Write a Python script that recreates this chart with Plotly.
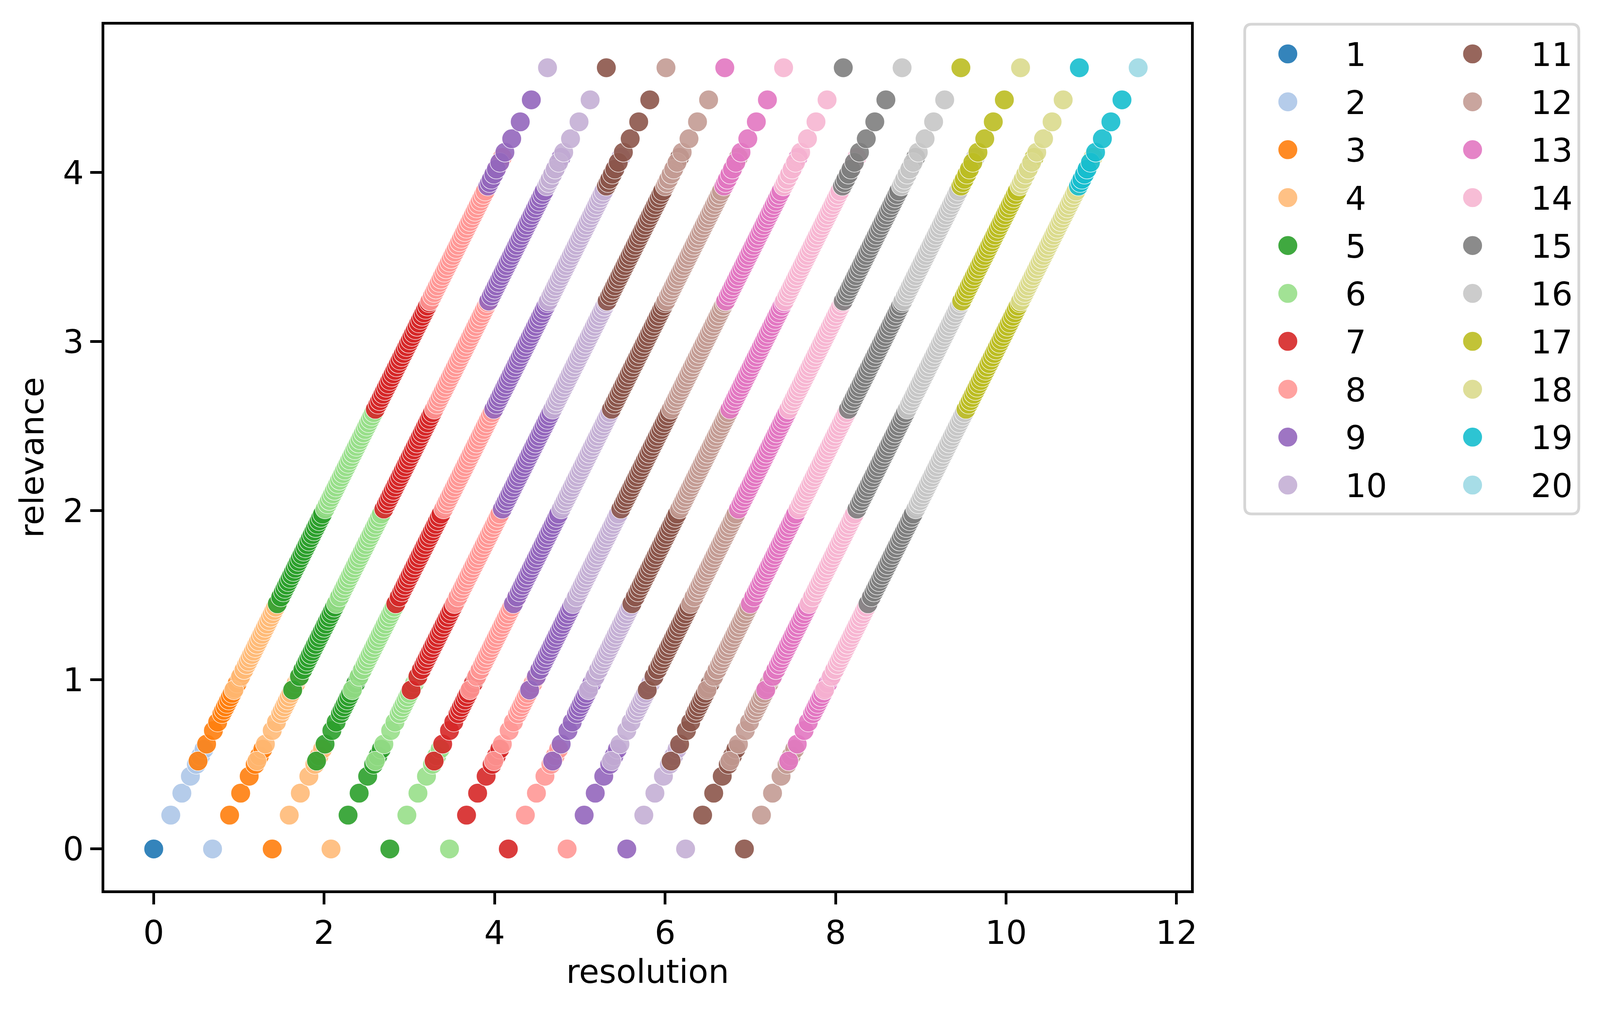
import plotly.graph_objects as go

# ---------------- data ----------------
categories = list(range(1, 21))
colors = ["#1f77b4", "#aec7e8", "#ff7f0e", "#ffbb78", "#2ca02c", "#98df8a",
          "#d62728", "#ff9896", "#9467bd", "#c5b0d5", "#8c564b", "#c49c94",
          "#e377c2", "#f7b6d2", "#7f7f7f", "#c7c7c7", "#bcbd22", "#dbdb8d",
          "#17becf", "#9edae5"]

# resolution of each diagonal band at zero relevance (bottom row of points)
band_start = [0.0, 0.69, 1.39, 2.08, 2.77, 3.47, 4.16, 4.85, 5.55, 6.24, 6.93]

# relevance values of the points of each group, read along a band
rel_g1 = [0.0]
rel_g2 = [0.20, 0.33, 0.43, 0.50, 0.55, 0.59]
rel_g3 = [0.52, 0.62, 0.70, 0.75, 0.80, 0.82, 0.84, 0.86, 0.88, 0.90, 0.92,
          0.95, 0.98, 1.01, 1.04]
rel_g4 = [0.94, 1.02, 1.06, 1.09, 1.11, 1.13, 1.15, 1.17, 1.19, 1.21, 1.23,
          1.25, 1.27, 1.29, 1.31, 1.33, 1.35, 1.37, 1.39, 1.41, 1.43, 1.47, 1.50]
rel_g5 = [1.45, 1.49, 1.52, 1.54, 1.56, 1.58, 1.60, 1.62, 1.64, 1.66, 1.68,
          1.70, 1.72, 1.74, 1.76, 1.78, 1.80, 1.82, 1.84, 1.86, 1.88, 1.90,
          1.92, 1.94, 1.96, 1.98, 2.03, 2.06]
rel_g6 = [2.01, 2.04, 2.06, 2.08, 2.10, 2.12, 2.14, 2.16, 2.18, 2.20, 2.22,
          2.24, 2.26, 2.28, 2.30, 2.32, 2.34, 2.36, 2.38, 2.40, 2.42, 2.44,
          2.46, 2.48, 2.50, 2.52, 2.54, 2.56, 2.58, 2.63]
rel_g7 = [2.60, 2.63, 2.65, 2.67, 2.69, 2.71, 2.73, 2.75, 2.77, 2.79, 2.81,
          2.83, 2.85, 2.87, 2.89, 2.91, 2.93, 2.95, 2.97, 2.99, 3.01, 3.03,
          3.05, 3.07, 3.09, 3.11, 3.13, 3.15, 3.17, 3.19, 3.21, 3.23, 3.27]
rel_g8 = [3.24, 3.27, 3.29, 3.31, 3.33, 3.35, 3.37, 3.39, 3.41, 3.43, 3.45,
          3.47, 3.49, 3.51, 3.53, 3.55, 3.57, 3.59, 3.61, 3.63, 3.65, 3.67,
          3.69, 3.71, 3.73, 3.75, 3.77, 3.79, 3.81, 3.83, 3.85, 3.87, 3.89,
          3.94, 3.98, 4.04, 4.09]
rel_g9 = [3.92, 3.94, 3.96, 3.99, 4.02, 4.06, 4.12, 4.20, 4.30, 4.43]
rel_g10 = [4.62]

groups = [rel_g1, rel_g2, rel_g3, rel_g4, rel_g5, rel_g6, rel_g7, rel_g8,
          rel_g9, rel_g10]

x_ticks = [0, 2, 4, 6, 8, 10, 12]
y_ticks = [0, 1, 2, 3, 4]

# ---------------- layout ----------------
# the page is seen through a viewport about 4096 px wide (8 px body margin)
SX = 4096 / 4382


def fx(X):
    return X * SX - 8


def fy(Y):
    return Y - 8


W, H = 4080, 2578
PL, PR, PT, PB = fx(286), fx(3262), fy(63), fy(2280)
ML, MR, MT, MB = round(PL), round(W - PR), round(PT), round(H - PB)
PW, PH = W - ML - MR, H - MT - MB
FONT = "DejaVu Sans"
FS = 84

fig = go.Figure()

for c, col in zip(categories, colors):
    xs, ys = [], []
    for j, start in enumerate(band_start):
        g = c - j
        if 1 <= g <= len(groups):
            for r in groups[g - 1]:
                xs.append(start + r)
                ys.append(r)
    fig.add_trace(go.Scatter(
        x=xs, y=ys, mode="markers", name=str(c), showlegend=False,
        marker=dict(size=50, color=col, opacity=0.9,
                    line=dict(color="white", width=1.5)),
        hoverinfo="x+y+name"))

# ---------------- legend drawn as shapes + text ----------------
def px_to_paper_x(X):
    return (fx(X) - ML) / PW


def px_to_paper_y(Y):
    return (H - MB - fy(Y)) / PH


shapes = []
annotations = []
bx0, bx1 = px_to_paper_x(3409), px_to_paper_x(4324)
by0, by1 = px_to_paper_y(1316), px_to_paper_y(62)
rx, ry = 18 / PW, 18 / PH
path = (f"M {bx0 + rx},{by0} L {bx1 - rx},{by0} Q {bx1},{by0} {bx1},{by0 + ry} "
        f"L {bx1},{by1 - ry} Q {bx1},{by1} {bx1 - rx},{by1} "
        f"L {bx0 + rx},{by1} Q {bx0},{by1} {bx0},{by1 - ry} "
        f"L {bx0},{by0 + ry} Q {bx0},{by0} {bx0 + rx},{by0} Z")
shapes.append(dict(type="path", xref="paper", yref="paper", path=path,
                   line=dict(color="#d6d6d6", width=7), fillcolor="white",
                   layer="above"))
col_marker_px = [3527, 4033]
col_text_px = [3682, 4190]
row0_px, row_step_px = 138, 122.67
for i, (c, colr) in enumerate(zip(categories, colors)):
    colidx, row = divmod(i, 10)
    py = row0_px + row * row_step_px
    shapes.append(dict(type="circle", xref="paper", yref="paper",
                       xsizemode="pixel", ysizemode="pixel",
                       xanchor=px_to_paper_x(col_marker_px[colidx]),
                       yanchor=px_to_paper_y(py),
                       x0=-25, x1=25, y0=-25, y1=25,
                       fillcolor=colr, opacity=0.9,
                       line=dict(color="white", width=1.5), layer="above"))
    annotations.append(dict(xref="paper", yref="paper",
                            x=px_to_paper_x(col_text_px[colidx]),
                            y=px_to_paper_y(py + 2),
                            text=str(c), showarrow=False,
                            xanchor="left", yanchor="middle",
                            font=dict(family=FONT, size=FS, color="black")))

axis_common = dict(showline=True, linecolor="black", linewidth=6.5, mirror=True,
                   ticks="outside", ticklen=29, tickwidth=6.5, tickcolor="black",
                   showgrid=False, zeroline=False,
                   tickfont=dict(family=FONT, size=FS, color="black"))

fig.update_layout(
    width=W, height=H,
    margin=dict(l=ML, r=MR, t=MT, b=MB, autoexpand=False),
    paper_bgcolor="white", plot_bgcolor="white",
    font=dict(family=FONT, size=FS, color="black"),
    xaxis=dict(range=[-0.58, 12.17], tickvals=x_ticks, **axis_common,
               title=dict(text="resolution", standoff=25,
                          font=dict(family=FONT, size=FS, color="black"))),
    yaxis=dict(range=[-0.245, 4.875], tickvals=y_ticks, **axis_common,
               title=dict(text="relevance", standoff=24,
                          font=dict(family=FONT, size=FS, color="black"))),
    shapes=shapes, annotations=annotations, showlegend=False,
)

fig.write_html("out.html")
